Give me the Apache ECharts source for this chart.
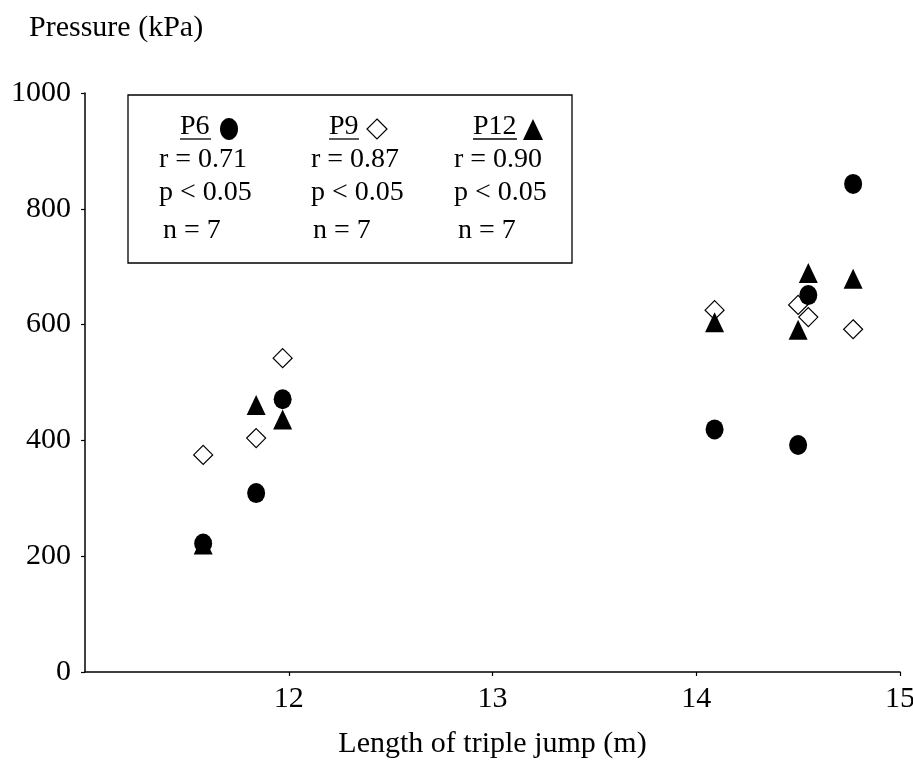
<!DOCTYPE html>
<html>
<head>
<meta charset="utf-8">
<script src="https://cdn.jsdelivr.net/npm/echarts@6/dist/echarts.min.js"></script>
<style>
html,body{margin:0;padding:0;background:#fff;}
#chart{width:913px;height:760px;}
</style>
</head>
<body>
<div id="chart"></div>
<script>
// Data
var jumpLength = [11.58, 11.84, 11.97, 14.09, 14.50, 14.55, 14.77];
var p6Values  = [222, 309, 471, 419, 392, 651, 843];
var p9Values  = [375, 404, 542, 625, 634, 613, 592];
var p12Values = [220, 461, 436, 604, 591, 689, 679];
var yTicks = [0, 200, 400, 600, 800, 1000];
var xTicks = [11, 12, 13, 14, 15];
var statsP6  = ['r = 0.71', 'p < 0.05', 'n = 7'];
var statsP9  = ['r = 0.87', 'p < 0.05', 'n = 7'];
var statsP12 = ['r = 0.90', 'p < 0.05', 'n = 7'];

function pairs(xs, ys){ return xs.map(function(x,i){ return [x, ys[i]]; }); }

var FONT = '"Liberation Serif", "Times New Roman", serif';
var chart = echarts.init(document.getElementById('chart'), null, {renderer:'canvas'});

function txt(x, y, s, size, align){
  return {type:'text', x:x, y:y, style:{text:s, x:0, y:0, font:'normal '+size+'px '+FONT, fill:'#000', textAlign:align||'left', textVerticalAlign:'middle'}, z:10};
}
function uline(x1, x2, y){
  return {type:'line', shape:{x1:x1,y1:y,x2:x2,y2:y}, style:{stroke:'#000', lineWidth:1.3}, z:10};
}

var graphics = [
  {type:'rect', shape:{x:128, y:95, width:444, height:168}, style:{fill:'#fff', stroke:'#000', lineWidth:1.3}, z:5},
  txt(29, 28, 'Pressure (kPa)', 30),
  txt(180, 127, 'P6', 28), uline(180, 211, 139),
  {type:'ellipse', shape:{cx:229, cy:129, rx:9, ry:11}, style:{fill:'#000'}, z:10},
  txt(329, 127, 'P9', 28), uline(329, 359, 139),
  {type:'polygon', shape:{points:[[377,119],[387,129],[377,139],[367,129]]}, style:{fill:'#fff', stroke:'#000', lineWidth:1.2}, z:10},
  txt(473, 127, 'P12', 28), uline(473, 517, 139),
  {type:'polygon', shape:{points:[[533,119],[543,140],[523,140]]}, style:{fill:'#000'}, z:10}
];
var rowsY = [160, 193, 231];
[[159, statsP6], [311, statsP9], [454, statsP12]].forEach(function(c, ci){
  c[1].forEach(function(s, ri){
    var x = c[0];
    if (ri === 2) x += (ci === 0 ? 4 : ci === 1 ? 2 : 4);
    graphics.push(txt(x, rowsY[ri], s, 28));
  });
});

chart.setOption({
  animation:false,
  backgroundColor:'#fff',
  grid:{left:85, right:13, top:93, bottom:88, containLabel:false, outerBoundsMode:'none'},
  xAxis:{
    type:'value', min:11, max:15, interval:1,
    name:'Length of triple jump (m)', nameLocation:'middle', nameGap:57,
    nameTextStyle:{fontFamily:FONT, fontSize:30, color:'#000'},
    axisLine:{show:true, onZero:false, lineStyle:{color:'#000', width:1.5}},
    axisTick:{show:true, length:4, inside:false, lineStyle:{color:'#000', width:1.2}},
    axisLabel:{showMinLabel:false, fontFamily:FONT, fontSize:30, color:'#000', margin:12},
    splitLine:{show:false}
  },
  yAxis:{
    type:'value', min:0, max:1000, interval:200,
    axisLine:{show:true, onZero:false, lineStyle:{color:'#000', width:1.5}},
    axisTick:{show:true, length:4, inside:false, lineStyle:{color:'#000', width:1.2}},
    axisLabel:{fontFamily:FONT, fontSize:30, color:'#000', margin:14, formatter:function(v){ return String(v); }},
    splitLine:{show:false}
  },
  graphic:graphics,
  series:[
    {type:'scatter', name:'P9', data:pairs(jumpLength, p9Values), symbol:'diamond', symbolSize:[19,19],
      itemStyle:{color:'#fff', borderColor:'#000', borderWidth:1.2, opacity:1}, z:2},
    {type:'scatter', name:'P12', data:pairs(jumpLength, p12Values), symbol:'triangle', symbolSize:[19,20],
      itemStyle:{color:'#000', opacity:1}, z:3},
    {type:'scatter', name:'P6', data:pairs(jumpLength, p6Values), symbol:'circle', symbolSize:[18,20],
      itemStyle:{color:'#000', opacity:1}, z:4}
  ]
});
</script>
</body>
</html>
